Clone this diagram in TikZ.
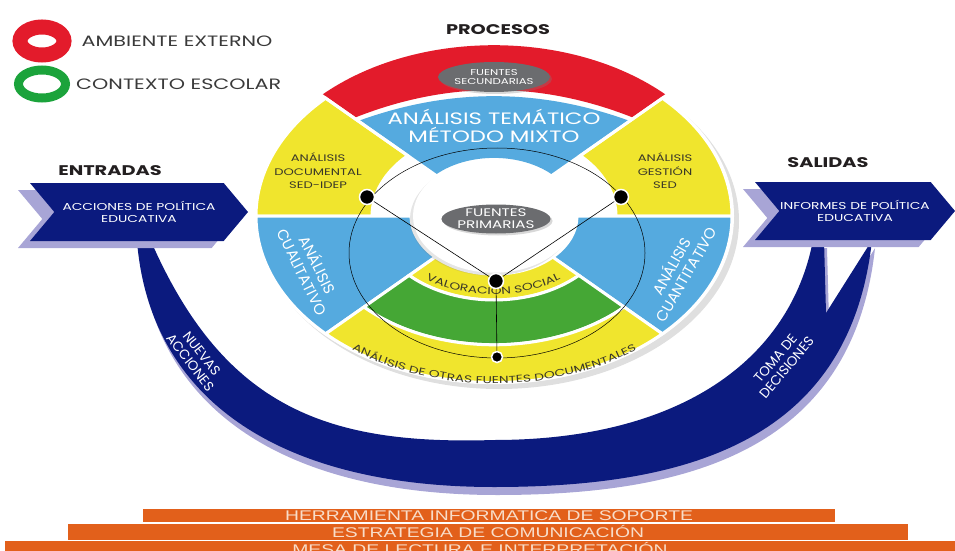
\documentclass[tikz,border=0pt]{standalone}
\usepackage{fontspec}
\setmainfont{Poppins}[FakeStretch=1.38]
\newfontfamily\upfont{Poppins}
\newfontfamily\barfont{Liberation Sans}[FakeStretch=1.38]
\usetikzlibrary{positioning,shapes.geometric,shapes.symbols,shadows,decorations.text,backgrounds}
\definecolor{ambred}{HTML}{E31B2B}
\definecolor{escgreen}{HTML}{45A735}
\definecolor{leggreen}{HTML}{1BA33B}
\definecolor{wheelyel}{HTML}{F0E52D}
\definecolor{wheelblue}{HTML}{55AADF}
\definecolor{navy}{HTML}{0B1A7E}
\definecolor{lavender}{HTML}{A8A5D6}
\definecolor{blobgrey}{HTML}{6B6C6F}
\definecolor{barorange}{HTML}{E2601B}
\definecolor{bartext}{HTML}{F8DDC9}
\definecolor{ink}{HTML}{3A3828}
\definecolor{legink}{HTML}{3A3A3A}
\definecolor{headink}{HTML}{231F20}
\tikzset{link/.style={draw=black, line width=0.6pt}}

\begin{document}
\begin{tikzpicture}[x=1pt, y=1pt, every node/.style={inner sep=0pt, align=center, text=ink},
  dot/.style={circle, fill=black, draw=white, line width=1.5pt, minimum size=15pt},
  blob/.style={ellipse, fill=blobgrey, text=white, drop shadow={opacity=0.3, shadow xshift=2pt, shadow yshift=-2pt}},
  banner/.style={signal, signal from=west, signal to=east, signal pointer angle=100, fill=navy, text=white, minimum height=58pt, font=\fontsize{10}{12}\selectfont, general shadow={fill=lavender, shadow xshift=-12pt, shadow yshift=-7pt}},
  head/.style={font=\bfseries\fontsize{14}{16}\selectfont, text=headink},
  bar/.style={fill=barorange, text=bartext, font=\barfont\fontsize{14}{14}\selectfont, text height=10pt, text depth=0pt},
  ring/.style={ellipse, fill=none}]
\useasboundingbox (0,0) rectangle (955,550);
\clip (0,0) rectangle (955,550);

\node[ring, draw=ambred, line width=15pt, minimum width=44pt, minimum height=28pt] (amb) at (42,509) {};
\node[right=10pt of amb, font=\fontsize{15}{15}\selectfont, text=legink] (ambt) {AMBIENTE EXTERNO};
\node[ring, draw=leggreen, line width=9pt, minimum width=47pt, minimum height=28pt] (esc) at (42,466) {};
\node[right=6pt of esc, font=\fontsize{15}{15}\selectfont, text=legink] (esct) {CONTEXTO ESCOLAR};

\begin{scope}[shift={(494,334)}, yscale=0.7]
  \fill[white, drop shadow={opacity=0.25, shadow xshift=5pt, shadow yshift=-5pt}] (0,0) circle[radius=240];
  \fill[ambred] (135:198) .. controls (-46.7,193.3) and (46.7,193.3) .. (45:198)
    -- (45:244) arc[start angle=45, end angle=135, radius=244] -- cycle;
  \fill[wheelblue] (45:83) -- (45:192) .. controls (44.8,183) and (-44.8,183) .. (135:192)
    -- (135:83) arc[start angle=135, end angle=45, radius=83] -- cycle;
  \foreach \a/\b/\ri/\ro/\col in {135/180/122/238/wheelyel, 0/45/122/238/wheelyel,
      180/225/83/238/wheelblue, 315/360/83/238/wheelblue, 225/315/83/120/wheelyel,
      225/315/120/184/escgreen, 225/315/184/238/wheelyel}
    \filldraw[fill=\col, draw=white, line width=3pt] (\a:\ri) arc[start angle=\a, end angle=\b, radius=\ri]
      -- (\b:\ro) arc[start angle=\b, end angle=\a, radius=\ro] -- cycle;
  \draw[white, line width=3pt] (45:60) -- (45:248) (135:60) -- (135:248);
  \fill[white, drop shadow={opacity=0.2, shadow xshift=-3pt, shadow yshift=-3pt}] (0,0) circle[radius=81];
\end{scope}

\node[head] (proc) at (498,520) {PROCESOS};
\node[head] (entl) at (110,379) {ENTRADAS};
\node[head] (sall) at (828,387) {SALIDAS};

\node[blob, minimum width=95pt, minimum height=30pt, font=\fontsize{8.5}{9.5}\selectfont] (fs) at (494,473) {FUENTES\\SECUNDARIAS};
\node[blob, minimum width=108pt, minimum height=29pt, font=\fontsize{11}{12}\selectfont] (fp) at (496,331) {FUENTES\\PRIMARIAS};

\node[text=white, font=\fontsize{16.5}{18}\selectfont] (tema) at (494,424) {ANÁLISIS TEMÁTICO\\MÉTODO MIXTO};
\node[font=\fontsize{9.5}{13.5}\selectfont] (doc) at (318,379) {ANÁLISIS\\DOCUMENTAL\\SED-IDEP};
\node[font=\fontsize{9.5}{13.5}\selectfont] (ges) at (665,379) {ANÁLISIS\\GESTIÓN\\SED};
\node[text=white, rotate=-64, font=\upfont\fontsize{15}{17}\selectfont] (cual) at (311,282) {ANÁLISIS\\CUALITATIVO};
\node[text=white, rotate=60, font=\upfont\fontsize{15}{17}\selectfont] (cuan) at (678,280) {ANÁLISIS\\CUANTITATIVO};

\path[decorate, decoration={text along path, text align=center, text color=ink,
  text={|\fontsize{10}{10}\selectfont|VALORACIÓN SOCIAL}}]
  (391,301) arc[start angle=205, end angle=335, x radius=113, y radius=79];
\path[decorate, decoration={text along path, text align=center, text color=ink,
  text={|\fontsize{10}{10}\selectfont|ANÁLISIS DE OTRAS FUENTES DOCUMENTALES}}]
  (315,225) arc[start angle=220, end angle=320, x radius=234, y radius=164];

\draw[line width=0.5pt] (497,297) ellipse[x radius=148, y radius=105];
\node[dot] (d1) at (367,353) {};
\node[dot] (d2) at (621,353) {};
\node[dot] (d3) at (496,269) {};
\node[dot, minimum size=11pt] (d4) at (497,193) {};
\draw[link] (d1) -- (d3);
\draw[link] (d2) -- (d3);
\draw[link] (d3) -- (d4);

\node[banner, minimum width=218pt] (ent) at (139,338) {ACCIONES DE POLÍTICA\\EDUCATIVA};
\node[banner, minimum width=200pt] (sal) at (855,339) {INFORMES DE POLÍTICA\\EDUCATIVA};

\begin{scope}[on background layer]
\fill[navy, general shadow={fill=lavender, shadow xshift=3pt, shadow yshift=-8pt}]
  ([xshift=-2pt]ent.south) .. controls (150,150) and (280,63) .. (494,63)
  .. controls (690,63) and (850,110) .. ([xshift=17pt]sal.south) -- (826,237)
  -- ([xshift=-31pt]sal.south) -- ([xshift=-42pt]sal.south)
  .. controls (790,190) and (680,110) .. (494,110)
  .. controls (330,105) and (225,140) .. ([xshift=12pt]ent.south) -- cycle;
\end{scope}
\node[text=white, rotate=-52, font=\upfont\fontsize{13.5}{14.5}\selectfont] (nue) at (196,192) {NUEVAS\\ACCIONES};
\node[text=white, rotate=50, font=\upfont\fontsize{13.5}{14.5}\selectfont] (toma) at (781,187) {TOMA DE\\DECISIONES};

\node[bar, minimum width=692pt, minimum height=13pt] (b1) at (489,34.5) {HERRAMIENTA INFORMATICA DE SOPORTE};
\node[bar, minimum width=840pt, minimum height=16pt] (b2) at (488,18) {ESTRATEGIA DE COMUNICACIÓN};
\node[bar, minimum width=950pt, minimum height=16pt] (b3) at (480,1) {MESA DE LECTURA E INTERPRETACIÓN};
\end{tikzpicture}
\end{document}
